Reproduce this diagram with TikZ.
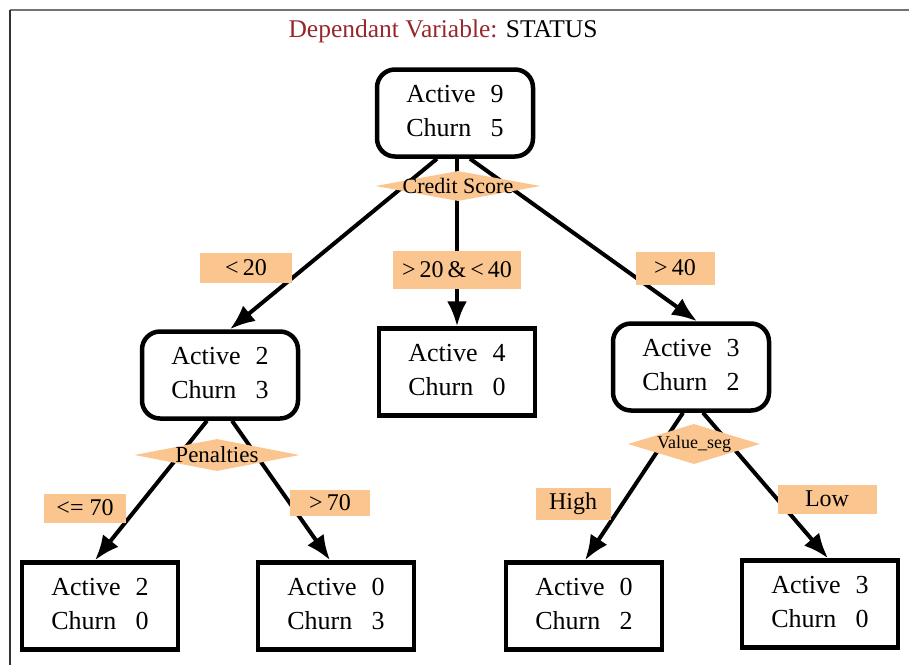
\documentclass[tikz,border=0pt]{standalone}
\usepackage{fontspec}
\setmainfont{Liberation Serif}
\usetikzlibrary{shapes.geometric,arrows.meta,backgrounds}

\definecolor{peach}{RGB}{251,197,143}
\definecolor{titlered}{RGB}{150,40,45}

\tikzset{
  counts/.style={draw, line width=4.5pt, fill=white, minimum width=156pt,
    minimum height=87pt, inner sep=0pt, font=\fontsize{26}{34}\selectfont},
  inner/.style={counts, rounded corners=18pt},
  leaf/.style={counts},
  split/.style={diamond, fill=peach, inner sep=0pt},
  cond/.style={fill=peach, inner sep=0pt, font=\fontsize{24}{28}\selectfont},
  edge/.style={line width=4pt, -{Latex[length=25pt,width=20pt]}}
}

% two class counts in one box
\newcommand{\cnt}[2]{\begin{tabular}{@{}l@{\hspace{15pt}}r@{}}Active & #1\\ Churn & #2\end{tabular}}

\begin{document}
\begin{tikzpicture}[x=1pt, y=-1pt]
\useasboundingbox (0,0) rectangle (909,665);
\draw[black!55, line width=2pt] (909,10) -- (10,10);
\draw[black!80, line width=2pt] (10,10) -- (10,665);

\node[font=\fontsize{25.5}{30}\selectfont] (title) at (443,31)
  {\textcolor{titlered}{Dependant Variable:} STATUS};

  % inner nodes
  \node[inner] (root) at (455,113) {\cnt{9}{5}};
  \node[inner] (lmid) at (220,375) {\cnt{2}{3}};
  \node[leaf]  (mmid) at (457,372) {\cnt{4}{0}};
  \node[inner] (rmid) at (691,367) {\cnt{3}{2}};

  % leaves
  \node[leaf] (l1) at (100,606) {\cnt{2}{0}};
  \node[leaf] (l2) at (336,606) {\cnt{0}{3}};
  \node[leaf] (l3) at (584,606) {\cnt{0}{2}};
  \node[leaf] (l4) at (820,604) {\cnt{3}{0}};

  % splitting variables
  \node[split, minimum width=165pt, minimum height=30pt,
    label={[font=\fontsize{22}{26}\selectfont]center:Credit Score}] (cs) at (458,186) {};
  \node[split, minimum width=165pt, minimum height=32pt,
    label={[font=\fontsize{23}{27}\selectfont]center:Penalties}] (pen) at (217,455) {};
  \node[split, minimum width=132pt, minimum height=40pt,
    label={[font=\fontsize{18}{22}\selectfont]center:Value\_seg}] (vs) at (694,444) {};

  % split conditions
  \node[cond, minimum width=92pt, minimum height=30pt] (c1) at (246,268) {<\,20};
  \node[cond, minimum width=128pt, minimum height=38pt] (c2) at (457,270) {>\,20\,\&\,<\,40};
  \node[cond, minimum width=79pt, minimum height=33pt] (c3) at (675,268) {>\,40};
  \node[cond, minimum width=82pt, minimum height=29pt] (c4) at (85,508) {<= 70};
  \node[cond, minimum width=80pt, minimum height=26pt] (c5) at (330,503) {>\,70};
  \node[cond, minimum width=75pt, minimum height=32pt] (c6) at (573,504) {High};
  \node[cond, minimum width=99pt, minimum height=29pt] (c7) at (827,499) {Low};

\begin{scope}[on background layer]
  \draw[edge] ([xshift=-18pt]root.south) -- ([xshift=10pt]lmid.north);
  \draw[edge] ([xshift=2pt]root.south) -- (mmid.north);
  \draw[edge] ([xshift=15pt]root.south) -- ([xshift=6pt]rmid.north);
  \draw[edge] ([xshift=-13pt]lmid.south) -- ([xshift=-5pt]l1.north);
  \draw[edge] ([xshift=12pt]lmid.south) -- ([xshift=-6pt]l2.north);
  \draw[edge] ([xshift=-8pt]rmid.south) -- ([xshift=1pt]l3.north);
  \draw[edge] ([xshift=12pt]rmid.south) -- ([xshift=8pt]l4.north);
\end{scope}
\end{tikzpicture}
\end{document}
